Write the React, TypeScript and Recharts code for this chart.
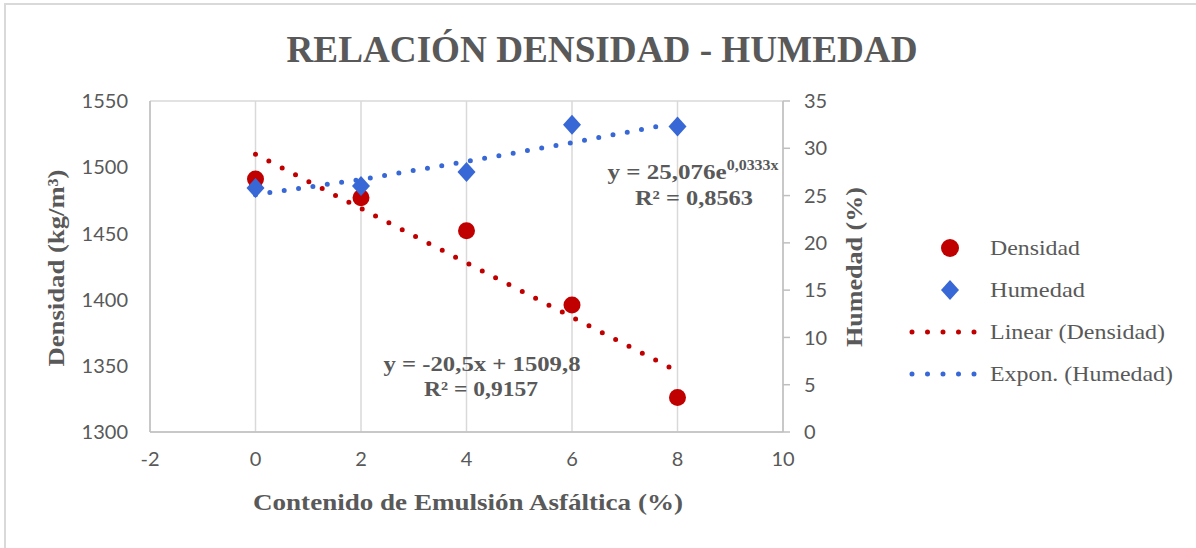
import { ScatterChart, Scatter, XAxis, YAxis, CartesianGrid } from "recharts";

const contenido = [0, 2, 4, 6, 8];
const densidad = [1491, 1477, 1452, 1396, 1326];
const humedad = [25.8, 26.0, 27.5, 32.5, 32.3];

// trendlines
const linearTrendX = [0, 7.85];
const linearTrendY = [1509.8, 1348.9];
const expTrendX = [0, 2, 4, 6, 7.8];
const expTrendY = [25.1, 26.7, 28.6, 30.6, 32.5];

const xTicks = [-2, 0, 2, 4, 6, 8, 10];
const leftTicks = [1300, 1350, 1400, 1450, 1500, 1550];
const rightTicks = [0, 5, 10, 15, 20, 25, 30, 35];

const RED = "#C00000";
const BLUE = "#3867D6";
const TEXT = "#595959";
const SERIF = "'Liberation Serif', 'Times New Roman', serif";
const SANS = "Lato, 'Open Sans', sans-serif";

const densData = contenido.map((x, i) => ({ x, y: densidad[i] }));
const humData = contenido.map((x, i) => ({ x, y: humedad[i] }));
const linData = linearTrendX.map((x, i) => ({ x, y: linearTrendY[i] }));
const expData = expTrendX.map((x, i) => ({ x, y: expTrendY[i] }));

const Dot = (p: any) => <circle cx={p.cx} cy={p.cy} r={8.5} fill={RED} />;
const Diamond = (p: any) => (
  <polygon
    points={`${p.cx},${p.cy - 10} ${p.cx + 9},${p.cy} ${p.cx},${p.cy + 10} ${p.cx - 9},${p.cy}`}
    fill={BLUE}
  />
);
const NoShape = () => <g />;

const tickStyle = { fontSize: 20, fill: TEXT, fontFamily: SANS };

function LegendBox() {
  const rows = [
    { label: "Densidad", kind: "dot", w: 90 },
    { label: "Humedad", kind: "diamond", w: 95 },
    { label: "Linear (Densidad)", kind: "red", w: 175 },
    { label: "Expon. (Humedad)", kind: "blue", w: 183 },
  ];
  return (
    <g>
      {rows.map((r, i) => {
        const y = 248 + i * 42;
        return (
          <g key={r.label}>
            {r.kind === "dot" && <circle cx={950} cy={y} r={9} fill={RED} />}
            {r.kind === "diamond" && (
              <polygon points={`950,${y - 10} 959,${y} 950,${y + 10} 941,${y}`} fill={BLUE} />
            )}
            {(r.kind === "red" || r.kind === "blue") && (
              <line
                x1={912} x2={980} y1={y} y2={y}
                stroke={r.kind === "red" ? RED : BLUE}
                strokeWidth={5} strokeLinecap="round" strokeDasharray="0 15.5"
              />
            )}
            <text x={990} y={y + 7} fontSize={22} fill={TEXT} fontFamily={SERIF}
              textLength={r.w} lengthAdjust="spacingAndGlyphs">{r.label}</text>
          </g>
        );
      })}
    </g>
  );
}

const bold = { fontWeight: "bold" as const, fill: TEXT, fontFamily: SERIF };

export default function App() {
  return (
    <div style={{ position: "absolute", left: 0, top: 0, width: 1196, height: 548, background: "#fff" }}>
      <ScatterChart width={1196} height={548} margin={{ top: 101, right: 353, bottom: 76, left: 0 }}>
        <CartesianGrid stroke="#D9D9D9" strokeWidth={1.5} />
        <XAxis
          type="number" dataKey="x" domain={[-2, 10]} ticks={xTicks} height={40}
          axisLine={{ stroke: "#BFBFBF", strokeWidth: 1.5 }} tickLine={false}
          tick={tickStyle} tickMargin={14} interval={0}
        />
        <YAxis
          yAxisId="left" type="number" dataKey="y" domain={[1300, 1550]} ticks={leftTicks} width={150}
          axisLine={{ stroke: "#BFBFBF", strokeWidth: 1.5 }} tickLine={false}
          tick={tickStyle} tickMargin={16} interval={0}
        />
        <YAxis
          yAxisId="right" orientation="right" type="number" dataKey="y" domain={[0, 35]} ticks={rightTicks} width={60}
          axisLine={{ stroke: "#BFBFBF", strokeWidth: 1.5 }} tickLine={{ stroke: "#BFBFBF", strokeWidth: 1.5 }} tickSize={7}
          tick={tickStyle} tickMargin={14} interval={0}
        />
        <Scatter yAxisId="left" data={linData} shape={NoShape} isAnimationActive={false}
          line={{ stroke: RED, strokeWidth: 5, strokeDasharray: "0 15", strokeLinecap: "round" }} />
        <Scatter yAxisId="right" data={expData} shape={NoShape} isAnimationActive={false}
          line={{ stroke: BLUE, strokeWidth: 5, strokeDasharray: "0 14.5", strokeLinecap: "round" }} />
        <Scatter name="Densidad" yAxisId="left" data={densData} shape={Dot} isAnimationActive={false} />
        <Scatter name="Humedad" yAxisId="right" data={humData} shape={Diamond} isAnimationActive={false} />
      </ScatterChart>
      <svg width={1196} height={548} style={{ position: "absolute", left: 0, top: 0, pointerEvents: "none" }}>
        <rect x={5} y={4} width={1200} height={560} fill="none" stroke="#D9D9D9" strokeWidth={2} />
        <text x={602} y={62} textAnchor="middle" fontSize={38} {...bold}
          textLength={631} lengthAdjust="spacingAndGlyphs">RELACIÓN DENSIDAD - HUMEDAD</text>
        <text transform="translate(64,268) rotate(-90)" textAnchor="middle" fontSize={23} {...bold}
          textLength={197} lengthAdjust="spacingAndGlyphs">Densidad (kg/m³)</text>
        <text transform="translate(862,267) rotate(-90)" textAnchor="middle" fontSize={23} {...bold}
          textLength={160} lengthAdjust="spacingAndGlyphs">Humedad (%)</text>
        <text x={468} y={510} textAnchor="middle" fontSize={23} {...bold}
          textLength={430} lengthAdjust="spacingAndGlyphs">Contenido de Emulsión Asfáltica (%)</text>
        <text x={693} y={179} textAnchor="middle" fontSize={22} {...bold}
          textLength={171} lengthAdjust="spacingAndGlyphs">
          y = 25,076e<tspan fontSize={14} dy={-9}>0,0333x</tspan>
        </text>
        <text x={694} y={205} textAnchor="middle" fontSize={22} {...bold}
          textLength={118} lengthAdjust="spacingAndGlyphs">R² = 0,8563</text>
        <text x={482} y={371} textAnchor="middle" fontSize={22} {...bold}
          textLength={197} lengthAdjust="spacingAndGlyphs">y = -20,5x + 1509,8</text>
        <text x={481} y={396} textAnchor="middle" fontSize={22} {...bold}
          textLength={114} lengthAdjust="spacingAndGlyphs">R² = 0,9157</text>
        <LegendBox />
      </svg>
    </div>
  );
}
